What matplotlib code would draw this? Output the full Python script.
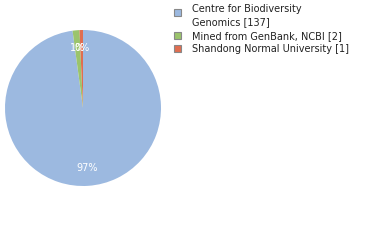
import matplotlib
matplotlib.use("Agg")
import matplotlib.pyplot as plt
from matplotlib.patches import Rectangle

labels = ["Centre for Biodiversity\nGenomics [137]",
          "Mined from GenBank, NCBI [2]",
          "Shandong Normal University [1]"]
counts = [137, 2, 1]
colors = ["#9cb9e0", "#9bc46c", "#e06e50"]

W, H = 380, 240
fig = plt.figure(figsize=(W / 100, H / 100), dpi=100)

# pie: centre (83, 108) px, radius 78 px
cx, cy, r = 83, 108, 78
ax = fig.add_axes([(cx - r) / W, (H - cy - r) / H, 2 * r / W, 2 * r / H])
wedges, _, autotexts = ax.pie(
    counts, colors=colors, startangle=90, counterclock=False,
    autopct=lambda p: f"{int(p)}%", pctdistance=0.77,
    wedgeprops=dict(linewidth=0),
    textprops=dict(color="white", fontsize=7),
)
ax.set_xlim(-1, 1)
ax.set_ylim(-1, 1)
ax.set_aspect("equal")
ax.axis("off")

# legend, drawn by hand (square + text, baselines in px from top)
square_y = [12.5, 35.5, 48.5]
baseline_y = [12, 39, 52]
line_step = 13
for lab, col, sy, by in zip(labels, colors, square_y, baseline_y):
    fig.patches.append(Rectangle((174 / W, (H - sy - 3.5) / H), 7 / W, 7 / H,
                                 transform=fig.transFigure, facecolor=col,
                                 edgecolor="#888888", linewidth=0.8))
    for i, line in enumerate(lab.split("\n")):
        fig.text(192 / W, 1 - (by + i * line_step) / H, line, fontsize=7,
                 va="baseline", ha="left", color="#222222")

fig.savefig("out.png", dpi=100)
